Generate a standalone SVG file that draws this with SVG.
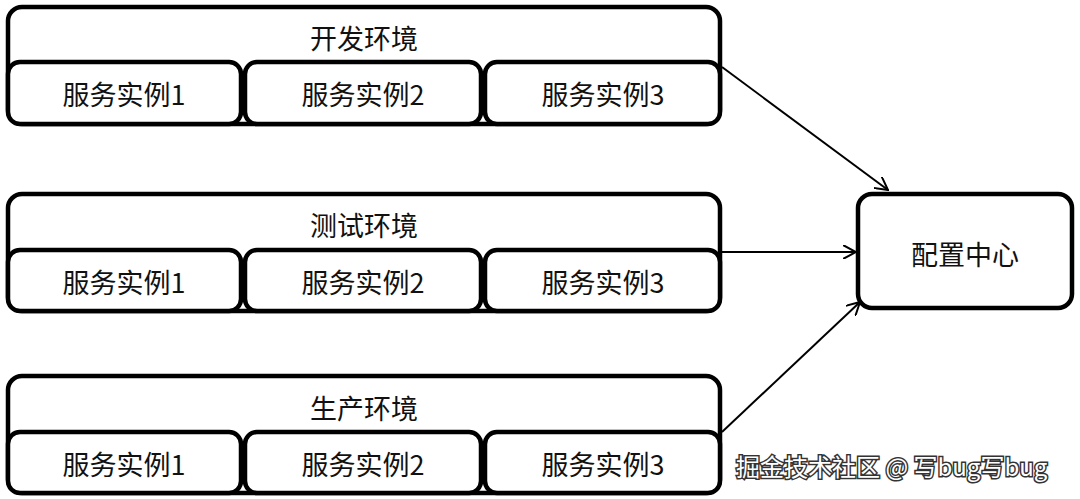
<svg xmlns="http://www.w3.org/2000/svg" width="1080" height="499" viewBox="0 0 1080 499">
<style>
.b{fill:#fff;stroke:#000;stroke-width:4.5}
.t{font-family:"Noto Sans CJK SC","Liberation Sans",sans-serif;font-size:27px;text-anchor:middle;fill:#111}
.c{stroke:#000;stroke-width:2;fill:none;marker-end:url(#a)}
.w{font-family:"Noto Sans CJK SC","Liberation Sans",sans-serif;font-size:24px;fill:#fff;stroke:#333;stroke-width:3;paint-order:stroke}
</style>
<defs><marker id="a" markerWidth="14" markerHeight="14" refX="13" refY="7" orient="auto" markerUnits="userSpaceOnUse"><path d="M0,0 L13,7 L0,14" fill="none" stroke="#000" stroke-width="2"/></marker></defs>
<rect width="1080" height="499" fill="#fff"/>
<g id="connectors">
<line class="c" x1="722" y1="67" x2="888" y2="190"/>
<line class="c" x1="722" y1="252" x2="856" y2="252"/>
<line class="c" x1="722" y1="432" x2="860" y2="302"/>
</g>
<g id="dev"><rect class="b" x="8" y="7" width="712" height="117" rx="14"/><text class="t" x="364" y="49">开发环境</text>
<rect class="b" x="8" y="62" width="233" height="62" rx="12"/><text class="t" x="124" y="105">服务实例1</text>
<rect class="b" x="245" y="62" width="236" height="62" rx="12"/><text class="t" x="363" y="105">服务实例2</text>
<rect class="b" x="485" y="62" width="235" height="62" rx="12"/><text class="t" x="603" y="105">服务实例3</text></g>
<g id="test"><rect class="b" x="8" y="194" width="712" height="117" rx="14"/><text class="t" x="364" y="236">测试环境</text>
<rect class="b" x="8" y="250" width="233" height="61" rx="12"/><text class="t" x="124" y="293">服务实例1</text>
<rect class="b" x="245" y="250" width="236" height="61" rx="12"/><text class="t" x="363" y="293">服务实例2</text>
<rect class="b" x="485" y="250" width="235" height="61" rx="12"/><text class="t" x="603" y="293">服务实例3</text></g>
<g id="prod"><rect class="b" x="8" y="376" width="712" height="117" rx="14"/><text class="t" x="364" y="419">生产环境</text>
<rect class="b" x="8" y="432" width="233" height="61" rx="12"/><text class="t" x="124" y="475">服务实例1</text>
<rect class="b" x="245" y="432" width="236" height="61" rx="12"/><text class="t" x="363" y="475">服务实例2</text>
<rect class="b" x="485" y="432" width="235" height="61" rx="12"/><text class="t" x="603" y="475">服务实例3</text></g>
<g id="config"><rect class="b" x="858" y="194" width="214" height="114" rx="14"/><text class="t" x="965" y="265">配置中心</text></g>
<text class="w" x="736" y="476">掘金技术社区 @ 写bug写bug</text>
</svg>
